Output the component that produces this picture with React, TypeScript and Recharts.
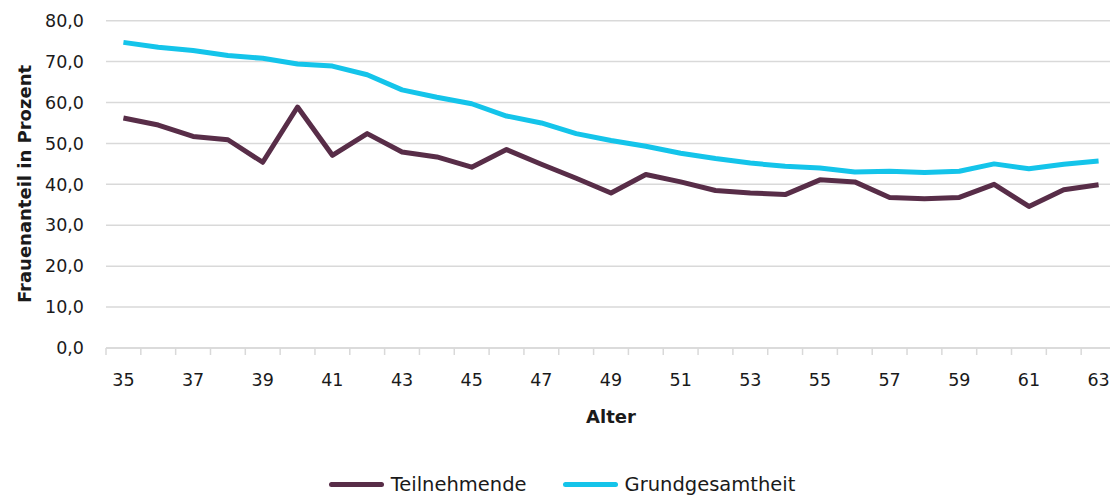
import { ComposedChart, Line, XAxis, YAxis, CartesianGrid, Legend } from "recharts";

const ages = ["35", "36", "37", "38", "39", "40", "41", "42", "43", "44", "45", "46", "47", "48", "49", "50", "51", "52", "53", "54", "55", "56", "57", "58", "59", "60", "61", "62", "63"];
const teilnehmende = [56.2, 54.5, 51.7, 50.9, 45.4, 58.9, 47.1, 52.4, 47.9, 46.7, 44.2, 48.5, 44.9, 41.5, 37.9, 42.4, 40.6, 38.5, 37.9, 37.5, 41.1, 40.6, 36.8, 36.5, 36.8, 40.0, 34.6, 38.7, 39.9];
const grundgesamtheit = [74.7, 73.5, 72.7, 71.5, 70.8, 69.4, 68.9, 66.8, 63.1, 61.3, 59.7, 56.7, 55.0, 52.4, 50.7, 49.3, 47.6, 46.3, 45.2, 44.4, 44.0, 43.0, 43.2, 42.9, 43.2, 45.0, 43.8, 44.9, 45.7];
const yTicks = [0, 10, 20, 30, 40, 50, 60, 70, 80];

const data = ages.map((a, i) => ({ alter: a, teil: teilnehmende[i], grund: grundgesamtheit[i] }));

const FONT = "'DejaVu Sans', sans-serif";
const TEXT = "#1a1a1a";
const GRID = "#d9d9d9";
const COL_TEIL = "#582d48";
const COL_GRUND = "#14c4ea";

const CHART_W = 1124;
const CHART_H = 497;
const Y_AXIS_W = 106;
const MARGIN_R = 8;
const PLOT_W = CHART_W - Y_AXIS_W - MARGIN_R;
const BAND = PLOT_W / ages.length;

// tick marks sit on the category borders, labels only on odd ages
function XTick(props: any) {
  const { x, y, payload, index } = props;
  const isOdd = Number(payload.value) % 2 === 1;
  return (
    <g>
      <line x1={x - BAND / 2} x2={x - BAND / 2} y1={y} y2={y + 7} stroke={GRID} strokeWidth={1.5} />
      {index === ages.length - 1 && (
        <line x1={x + BAND / 2} x2={x + BAND / 2} y1={y} y2={y + 7} stroke={GRID} strokeWidth={1.5} />
      )}
      {isOdd && (
        <text x={x} y={y + 38} textAnchor="middle" fill={TEXT} fontSize={17.5} fontFamily={FONT}>
          {payload.value}
        </text>
      )}
    </g>
  );
}

function LegendBox() {
  const items = [
    { name: "Teilnehmende", color: COL_TEIL },
    { name: "Grundgesamtheit", color: COL_GRUND },
  ];
  return (
    <div style={{ display: "flex", justifyContent: "center", alignItems: "center", gap: 36 }}>
      {items.map((it) => (
        <div key={it.name} style={{ display: "flex", alignItems: "center", gap: 7 }}>
          <span style={{ display: "inline-block", width: 55, height: 5, borderRadius: 3, background: it.color }} />
          <span style={{ fontFamily: FONT, fontSize: 19.5, color: TEXT }}>{it.name}</span>
        </div>
      ))}
    </div>
  );
}

export default function App() {
  return (
    <div style={{ position: "absolute", left: 0, top: 0, width: 1110, height: 497, overflow: "hidden", background: "#fff" }}>
      <ComposedChart
        width={CHART_W}
        height={CHART_H}
        data={data}
        margin={{ top: 20.7, right: MARGIN_R, bottom: 0, left: 0 }}
      >
        <CartesianGrid vertical={false} stroke={GRID} strokeWidth={1.5} />
        <XAxis
          dataKey="alter"
          interval={0}
          height={149}
          padding={{ left: BAND / 2, right: BAND / 2 }}
          tickSize={0}
          tickMargin={0}
          tickLine={false}
          axisLine={{ stroke: GRID, strokeWidth: 1.5 }}
          tick={<XTick />}
          label={{
            value: "Alter",
            position: "insideTop",
            offset: 62,
            fill: TEXT,
            fontSize: 18,
            fontWeight: "bold",
            fontFamily: FONT,
          }}
        />
        <YAxis
          domain={[0, 80]}
          ticks={yTicks}
          width={Y_AXIS_W}
          tickSize={0}
          tickMargin={22}
          axisLine={false}
          tickLine={false}
          tickFormatter={(v: number) => v.toFixed(1).replace(".", ",")}
          tick={{ fill: TEXT, fontSize: 17.5, fontFamily: FONT }}
          label={{
            content: () => (
              <text
                x={31}
                y={184}
                transform="rotate(-90 31 184)"
                textAnchor="middle"
                fill={TEXT}
                fontSize={18}
                fontWeight="bold"
                fontFamily={FONT}
              >
                Frauenanteil in Prozent
              </text>
            ),
          }}
        />
        <Legend
          layout="horizontal"
          verticalAlign="middle"
          align="center"
          content={<LegendBox />}
          wrapperStyle={{ top: 473, left: 0, width: CHART_W }}
        />
        <Line
          dataKey="teil"
          name="Teilnehmende"
          stroke={COL_TEIL}
          strokeWidth={5}
          dot={false}
          strokeLinejoin="round"
          isAnimationActive={false}
        />
        <Line
          dataKey="grund"
          name="Grundgesamtheit"
          stroke={COL_GRUND}
          strokeWidth={5}
          dot={false}
          strokeLinejoin="round"
          isAnimationActive={false}
        />
      </ComposedChart>
    </div>
  );
}
